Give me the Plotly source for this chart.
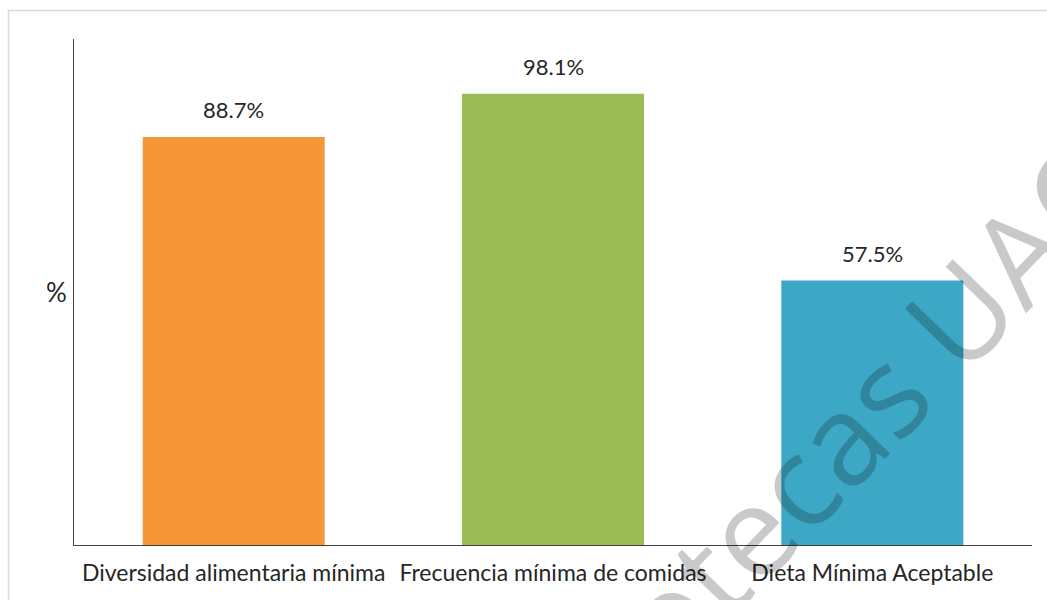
import plotly.graph_objects as go

categories = ["Diversidad alimentaria mínima", "Frecuencia mínima de comidas", "Dieta Mínima Aceptable"]
values = [88.7, 98.1, 57.5]
value_labels = ["88.7%", "98.1%", "57.5%"]
colors = ["#F59639", "#9BBB54", "#3DA8C6"]

W, H = 1047, 600
L, R, T, B = 74, 15, 39, 55
pw, ph = W - L - R, H - T - B

def px_x(x):
    return (x - L) / pw

def px_y(y):
    return (H - B - y) / ph

fig = go.Figure()
fig.add_trace(go.Bar(x=categories, y=values, marker=dict(color=colors, line=dict(width=0)),
                     width=0.57, hoverinfo="x+y"))

font_family = "Lato, 'Open Sans', sans-serif"
text_color = "#262626"

annotations = []
for c, v, t in zip(categories, values, value_labels):
    annotations.append(dict(x=c, y=v, xref="x", yref="y", text=t, showarrow=False,
                            yanchor="bottom", yshift=12,
                            font=dict(family=font_family, size=22, color=text_color)))
annotations.append(dict(x=px_x(56), y=0.5, xref="paper", yref="paper", text="%", showarrow=False,
                        xanchor="center", yanchor="middle",
                        font=dict(family=font_family, size=26, color=text_color)))
# watermark
annotations.append(dict(x=px_x(788), y=px_y(489), xref="paper", yref="paper", text="Bibliotecas UAQ",
                        showarrow=False, textangle=-46, xanchor="center", yanchor="middle",
                        font=dict(family="'Open Sans', sans-serif", size=126, color="rgba(0,0,0,0.21)")))

fig.update_layout(
    width=W, height=H,
    margin=dict(l=L, r=R, t=T, b=B),
    paper_bgcolor="white", plot_bgcolor="white",
    showlegend=False,
    annotations=annotations,
    shapes=[dict(type="rect", xref="paper", yref="paper",
                 x0=px_x(8.5), x1=px_x(1080), y0=px_y(640), y1=px_y(10.5),
                 line=dict(color="#D9D9D9", width=1.5), fillcolor="rgba(0,0,0,0)", layer="below")],
    xaxis=dict(showline=True, linecolor="#404040", linewidth=1.3, showgrid=False, zeroline=False,
               ticks="", ticklabelstandoff=7,
               tickfont=dict(family=font_family, size=23, color=text_color)),
    yaxis=dict(range=[0, 110], showline=True, linecolor="#404040", linewidth=1.3, showgrid=False,
               zeroline=False, showticklabels=False, ticks=""),
    bargap=0.43,
)

fig.write_html("out.html", config={"displayModeBar": False},
               post_script="document.body.style.margin='0';document.body.style.overflow='hidden';")
